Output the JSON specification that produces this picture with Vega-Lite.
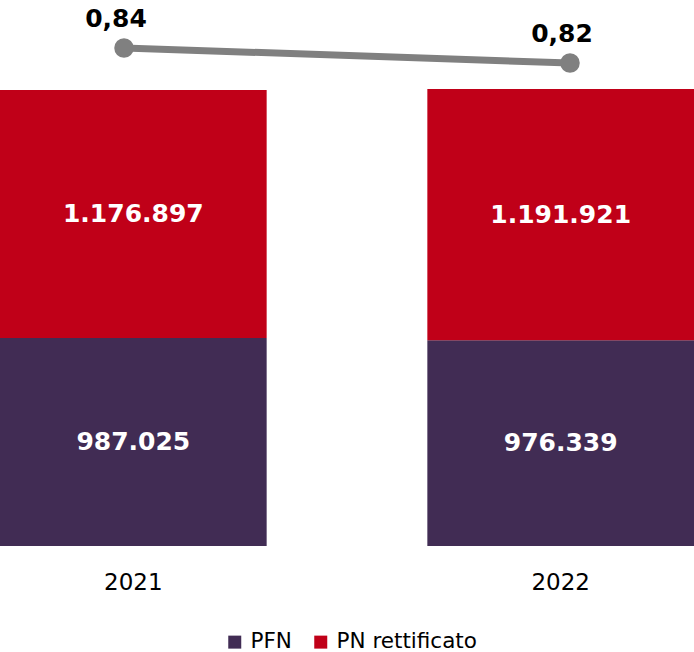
{
  "$schema": "https://vega.github.io/schema/vega-lite/v6.json",
  "width": 694,
  "height": 546,
  "autosize": {"type": "none"},
  "padding": {"top": 0, "left": 0, "right": 0, "bottom": 106},
  "background": "white",
  "config": {
    "view": {"stroke": null},
    "locale": {"number": {"decimal": ",", "thousands": ".", "grouping": [3], "currency": ["", " €"]}},
    "font": "DejaVu Sans"
  },
  "datasets": {
    "bars": [
      {"anno": "2021", "serie": "PFN", "ordine": 1, "valore": 987025},
      {"anno": "2021", "serie": "PN rettificato", "ordine": 2, "valore": 1176897},
      {"anno": "2022", "serie": "PFN", "ordine": 1, "valore": 976339},
      {"anno": "2022", "serie": "PN rettificato", "ordine": 2, "valore": 1191921}
    ],
    "ratio": [
      {"anno": "2021", "rapporto": 0.84},
      {"anno": "2022", "rapporto": 0.82}
    ]
  },
  "layer": [
    {
      "data": {"name": "bars"},
      "encoding": {
        "x": {
          "field": "anno", "type": "nominal",
          "scale": {"paddingInner": 0.376, "paddingOuter": 0},
          "axis": {
            "title": null, "domain": false, "ticks": false, "labelAngle": 0,
            "labelFontSize": 23, "labelColor": "#000000", "labelFont": "DejaVu Sans",
            "labelBaseline": "alphabetic", "labelPadding": 43
          }
        },
        "y": {
          "field": "valore", "type": "quantitative", "stack": "zero",
          "scale": {"domain": [0, 2591000], "nice": false, "zero": true},
          "axis": null
        },
        "order": {"field": "ordine", "type": "quantitative"}
      },
      "layer": [
        {
          "mark": {"type": "bar"},
          "encoding": {
            "color": {
              "field": "serie", "type": "nominal",
              "scale": {"domain": ["PFN", "PN rettificato"], "range": ["#412C54", "#C00018"]},
              "legend": {
                "title": null, "orient": "none", "direction": "horizontal",
                "legendX": 224, "legendY": 631, "padding": 0,
                "symbolType": "square", "symbolSize": 169, "symbolStrokeWidth": 0,
                "labelFontSize": 21.5, "labelFont": "DejaVu Sans", "labelColor": "#000000",
                "labelOffset": 5, "columnPadding": 18
              }
            }
          }
        },
        {
          "mark": {"type": "text", "color": "#FFFFFF", "font": "DejaVu Sans", "fontWeight": "bold", "fontSize": 25, "baseline": "middle", "align": "center"},
          "encoding": {
            "y": {"field": "valore", "type": "quantitative", "stack": "zero", "bandPosition": 0.5},
            "detail": {"field": "serie", "type": "nominal"},
            "text": {"field": "valore", "type": "quantitative", "format": ",.0f"}
          }
        }
      ]
    },
    {
      "data": {"name": "ratio"},
      "encoding": {
        "x": {"field": "anno", "type": "nominal", "scale": {"type": "point", "padding": 0.278}, "axis": null},
        "y": {"field": "rapporto", "type": "quantitative", "scale": {"domain": [0.176, 0.904], "nice": false, "zero": false}, "axis": null}
      },
      "layer": [
        {"mark": {"type": "line", "color": "#808080", "strokeWidth": 7}},
        {"mark": {"type": "point", "filled": true, "color": "#808080", "size": 380, "opacity": 1}},
        {
          "mark": {"type": "text", "color": "#000000", "font": "DejaVu Sans", "fontWeight": "bold", "fontSize": 25, "baseline": "alphabetic", "align": "center", "dx": -8, "dy": -21},
          "encoding": {"text": {"field": "rapporto", "type": "quantitative", "format": ".2f"}}
        }
      ]
    }
  ],
  "resolve": {"scale": {"x": "independent", "y": "independent"}}
}
